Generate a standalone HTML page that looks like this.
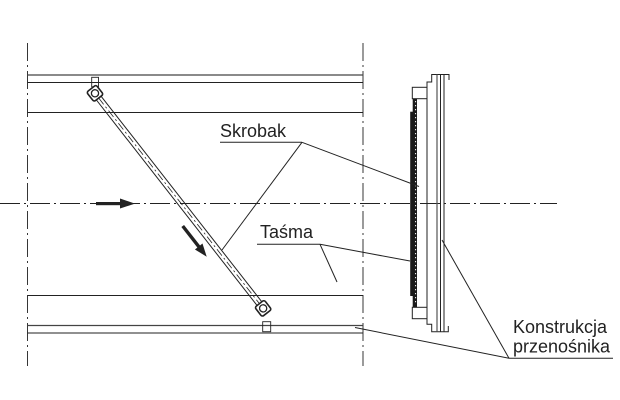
<!DOCTYPE html>
<html><head><meta charset="utf-8"><style>
html,body{margin:0;padding:0;background:#fff;}
svg{display:block;}
text{font-family:"Liberation Sans",Arial,sans-serif;font-size:18px;fill:#222;}
</style></head><body>
<svg width="620" height="400" viewBox="0 0 620 400" xmlns="http://www.w3.org/2000/svg">
<g fill="none" stroke="#222" stroke-width="1">
  <!-- vertical dash-dot lines -->
  <line x1="27.5" y1="43" x2="27.5" y2="366" stroke-dasharray="18 4 2 4" stroke-width="0.9"/>
  <line x1="363" y1="43" x2="363" y2="366" stroke-dasharray="18 4 2 4" stroke-width="0.9"/>
  <!-- centerline -->
  <line x1="0" y1="203.5" x2="557" y2="203.5" stroke-dasharray="20 4 2 4" stroke-width="0.9"/>
  <!-- rails -->
  <line x1="27.5" y1="75" x2="363" y2="75" stroke-width="1.3" stroke="#444"/>
  <line x1="27.5" y1="82.5" x2="363" y2="82.5"/>
  <line x1="27.5" y1="112.5" x2="363" y2="112.5"/>
  <line x1="27.5" y1="295.5" x2="363" y2="295.5"/>
  <line x1="27.5" y1="325.5" x2="363" y2="325.5" stroke-width="1.3" stroke="#444"/>
  <line x1="27.5" y1="333" x2="363" y2="333"/>
  <!-- small boxes at rails -->
  <rect x="91.7" y="77.3" width="6.8" height="9.5" stroke-width="0.9"/>
  <rect x="262.7" y="321.7" width="8" height="10" stroke-width="0.9"/>
</g>

<!-- scraper bar -->
<g transform="translate(95,93.3) rotate(51.98)" fill="none" stroke="#222">
  <line x1="6" y1="-3" x2="273" y2="-3" stroke-width="1"/>
  <line x1="6" y1="3" x2="273" y2="3" stroke-width="1"/>
  <line x1="6" y1="0" x2="273" y2="0" stroke-width="0.8" stroke-dasharray="8 3 2 3"/>
  <rect x="-6" y="-6" width="12" height="12" rx="2" stroke-width="1.6" fill="#fff"/>
  <circle cx="0" cy="0" r="3.6" stroke-width="1.3"/>
  <rect x="273" y="-6" width="12" height="12" rx="2" stroke-width="1.6" fill="#fff" transform="translate(-6,0)"/>
  <circle cx="273" cy="0" r="3.6" stroke-width="1.3" transform="translate(0,0)"/>
</g>

<!-- centerline arrow -->
<g fill="#222">
  <rect x="96" y="202" width="25" height="3.2"/>
  <polygon points="120,198.5 135,203.6 120,208.5"/>
</g>
<!-- diagonal arrow -->
<g transform="translate(182.7,226) rotate(51.98)" fill="#222">
  <rect x="0" y="-1.7" width="27" height="3.4"/>
  <polygon points="26,-4.8 39,0 26,4.8"/>
</g>

<!-- right assembly -->
<g fill="none" stroke="#222" stroke-width="1">
  <polyline points="427,87.3 427,82 431.7,82 431.7,74.5 449,74.5 449,80"/>
  <rect x="412.3" y="87.3" width="14.7" height="11.4"/>
  <rect x="412.3" y="307.3" width="14.7" height="11.4"/>
  <polyline points="427,318.7 427,324.3 431.7,324.3 431.7,331.7 448.3,331.7 448.3,326"/>
  <line x1="427" y1="98.7" x2="427" y2="307.3"/>
  <line x1="437" y1="74.5" x2="437" y2="331.7" stroke="#555" stroke-width="1.2"/>
  <line x1="440.5" y1="74.5" x2="440.5" y2="331.7"/>
  <line x1="444" y1="74.5" x2="444" y2="331.7"/>
</g>
<g fill="#1a1a1a">
  <rect x="412.7" y="98.7" width="4.3" height="208.6"/>
  <rect x="410.2" y="111.7" width="3" height="184.3"/>
</g>
<line x1="415.6" y1="101" x2="415.6" y2="305" stroke="#fff" stroke-width="1" stroke-dasharray="1.2 2.8"/>

<!-- leaders -->
<g fill="none" stroke="#222" stroke-width="1">
  <line x1="220" y1="142.3" x2="302" y2="142.3"/>
  <line x1="302" y1="142.3" x2="419" y2="186.5"/>
  <line x1="302" y1="142.3" x2="222" y2="250"/>
  <line x1="257" y1="244.3" x2="320" y2="244.3"/>
  <line x1="320" y1="244.3" x2="410" y2="261"/>
  <line x1="320" y1="244.3" x2="337" y2="282"/>
  <line x1="509" y1="358.3" x2="613" y2="358.3"/>
  <line x1="509" y1="358.3" x2="442" y2="240"/>
  <line x1="509" y1="358.3" x2="355" y2="327.5"/>
</g>

<text x="220" y="137">Skrobak</text>
<text x="260" y="238">Taśma</text>
<text x="513" y="333">Konstrukcja</text>
<text x="513" y="352.5">przenośnika</text>
</svg>
</body></html>
